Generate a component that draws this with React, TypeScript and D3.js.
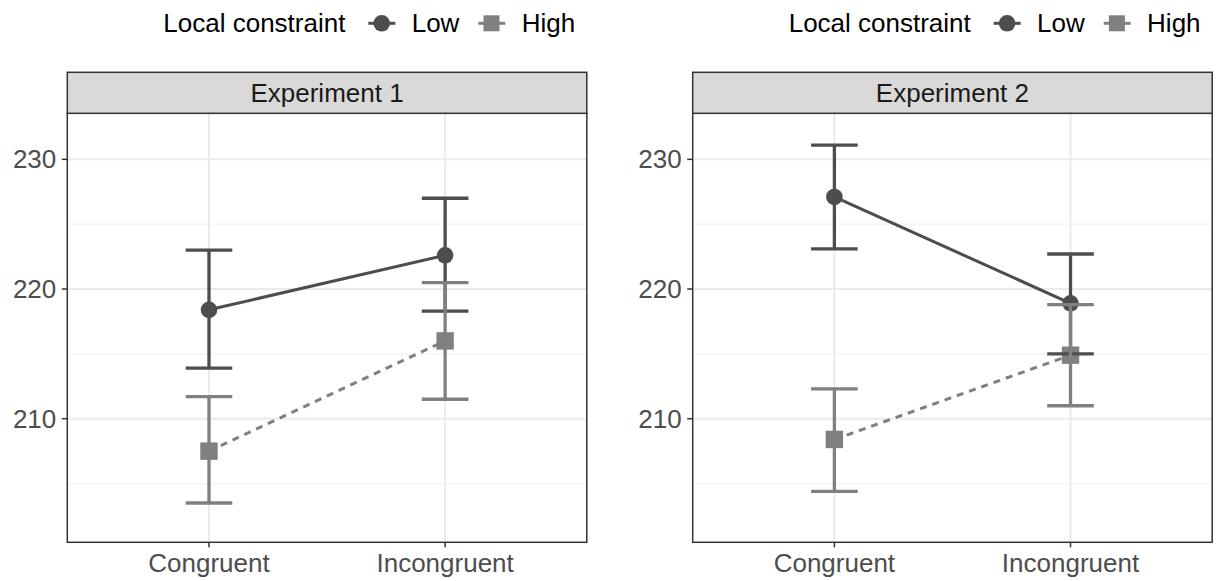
import React from 'react';
import * as d3 from 'd3';

// categories and panels
const conditions = ['Congruent', 'Incongruent'];
const experiments = ['Experiment 1', 'Experiment 2'];
const groups = ['Low', 'High'];

// means and error bar limits
const lowMean = [[218.4, 222.6], [227.1, 218.9]];
const lowLower = [[213.9, 218.3], [223.1, 215.0]];
const lowUpper = [[223.0, 227.0], [231.1, 222.7]];
const highMean = [[207.5, 216.0], [208.4, 214.9]];
const highLower = [[203.5, 211.5], [204.4, 211.0]];
const highUpper = [[211.7, 220.5], [212.3, 218.8]];

const majorTicks = [210, 220, 230];
const minorTicks = [205, 215, 225];
const yDomain = [200.47, 233.55];

const W = 1222;
const H = 581;
const FONT = '"Liberation Sans", Arial, Helvetica, sans-serif';
const LOW_COLOR = '#4d4d4d';
const HIGH_COLOR = '#808080';

// panel geometry
const panelLefts = [67.3, 692.7];
const panelWidth = 519.5;
const stripTop = 72.3;
const stripBottom = 113.3;
const panelBottom = 542.3;

function Legend({ left }: { left: number }) {
  const cy = 23.3;
  return (
    <g fontFamily={FONT} fontSize={26} fill="#000">
      <text x={left + 96} y={32.3}>Local constraint</text>
      <line x1={left + 301} x2={left + 328} y1={cy} y2={cy} stroke={LOW_COLOR} strokeWidth={3} />
      <circle cx={left + 314.4} cy={cy} r={8.3} fill={LOW_COLOR} />
      <text x={left + 344.4} y={32.3}>{groups[0]}</text>
      <line x1={left + 411} x2={left + 438} y1={cy} y2={cy} stroke={HIGH_COLOR} strokeWidth={3} />
      <rect x={left + 424.2 - 8} y={cy - 8} width={16} height={16} fill={HIGH_COLOR} />
      <text x={left + 454.4} y={32.3}>{groups[1]}</text>
    </g>
  );
}

function Panel({ idx }: { idx: number }) {
  const left = panelLefts[idx];
  const right = left + panelWidth;
  const x = d3.scalePoint<string>().domain(conditions).range([left, right]).padding(0.6);
  const y = d3.scaleLinear().domain(yDomain).range([panelBottom, stripBottom]);

  const line = d3.line<[number, number]>()
    .x((d) => d[0])
    .y((d) => d[1]);

  const series = [
    { name: 'Low', mean: lowMean[idx], lo: lowLower[idx], hi: lowUpper[idx], color: LOW_COLOR, dash: undefined },
    { name: 'High', mean: highMean[idx], lo: highLower[idx], hi: highUpper[idx], color: HIGH_COLOR, dash: '7,6' },
  ];
  const capHalf = 23.3;

  return (
    <g>
      {/* grid */}
      {minorTicks.map((t) => (
        <line key={'mi' + t} x1={left} x2={right} y1={y(t)} y2={y(t)} stroke="#f2f2f2" strokeWidth={1.2} />
      ))}
      {majorTicks.map((t) => (
        <line key={'ma' + t} x1={left} x2={right} y1={y(t)} y2={y(t)} stroke="#ebebeb" strokeWidth={2} />
      ))}
      {conditions.map((c) => (
        <line key={'v' + c} x1={x(c)} x2={x(c)} y1={stripBottom} y2={panelBottom} stroke="#ebebeb" strokeWidth={2} />
      ))}

      {/* connecting lines */}
      {series.map((s) => (
        <path
          key={'l' + s.name}
          d={line(conditions.map((c, i) => [x(c) as number, y(s.mean[i])])) || ''}
          fill="none"
          stroke={s.color}
          strokeWidth={3}
          strokeDasharray={s.dash}
        />
      ))}

      {/* points */}
      {series.map((s) => conditions.map((c, i) => (
        s.name === 'Low'
          ? <circle key={'p' + s.name + c} cx={x(c)} cy={y(s.mean[i])} r={8.3} fill={s.color} />
          : <rect key={'p' + s.name + c} x={(x(c) as number) - 8.7} y={y(s.mean[i]) - 8.7} width={17.4} height={17.4} fill={s.color} />
      )))}

      {/* error bars */}
      {series.map((s) => conditions.map((c, i) => {
        const cx = x(c) as number;
        return (
          <g key={'e' + s.name + c} stroke={s.color} strokeWidth={3.3}>
            <line x1={cx} x2={cx} y1={y(s.lo[i])} y2={y(s.hi[i])} />
            <line x1={cx - capHalf} x2={cx + capHalf} y1={y(s.lo[i])} y2={y(s.lo[i])} />
            <line x1={cx - capHalf} x2={cx + capHalf} y1={y(s.hi[i])} y2={y(s.hi[i])} />
          </g>
        );
      }))}

      {/* panel border */}
      <rect x={left} y={stripBottom} width={panelWidth} height={panelBottom - stripBottom} fill="none" stroke="#333333" strokeWidth={1.5} />

      {/* strip */}
      <rect x={left} y={stripTop} width={panelWidth} height={stripBottom - stripTop} fill="#d9d9d9" stroke="#333333" strokeWidth={1.5} />
      <text x={(left + right) / 2} y={(stripTop + stripBottom) / 2 + 9} textAnchor="middle" fontFamily={FONT} fontSize={26} fill="#1a1a1a">
        {experiments[idx]}
      </text>

      {/* y axis */}
      {majorTicks.map((t) => (
        <g key={'yt' + t}>
          <line x1={left - 5.5} x2={left} y1={y(t)} y2={y(t)} stroke="#333333" strokeWidth={1.5} />
          <text x={left - 11} y={y(t) + 9} textAnchor="end" fontFamily={FONT} fontSize={26} fill="#4d4d4d">{t}</text>
        </g>
      ))}

      {/* x axis */}
      {conditions.map((c) => (
        <g key={'xt' + c}>
          <line x1={x(c)} x2={x(c)} y1={panelBottom} y2={panelBottom + 5} stroke="#333333" strokeWidth={1.5} />
          <text x={x(c)} y={571.7} textAnchor="middle" fontFamily={FONT} fontSize={26} fill="#4d4d4d">{c}</text>
        </g>
      ))}

      <Legend left={left} />
    </g>
  );
}

export default function App() {
  return (
    <svg
      width={W}
      height={H}
      viewBox={`0 0 ${W} ${H}`}
      style={{ position: 'absolute', left: 0, top: 0, background: '#fff' }}
    >
      <rect width={W} height={H} fill="#fff" />
      {experiments.map((e, i) => <Panel key={e} idx={i} />)}
    </svg>
  );
}
